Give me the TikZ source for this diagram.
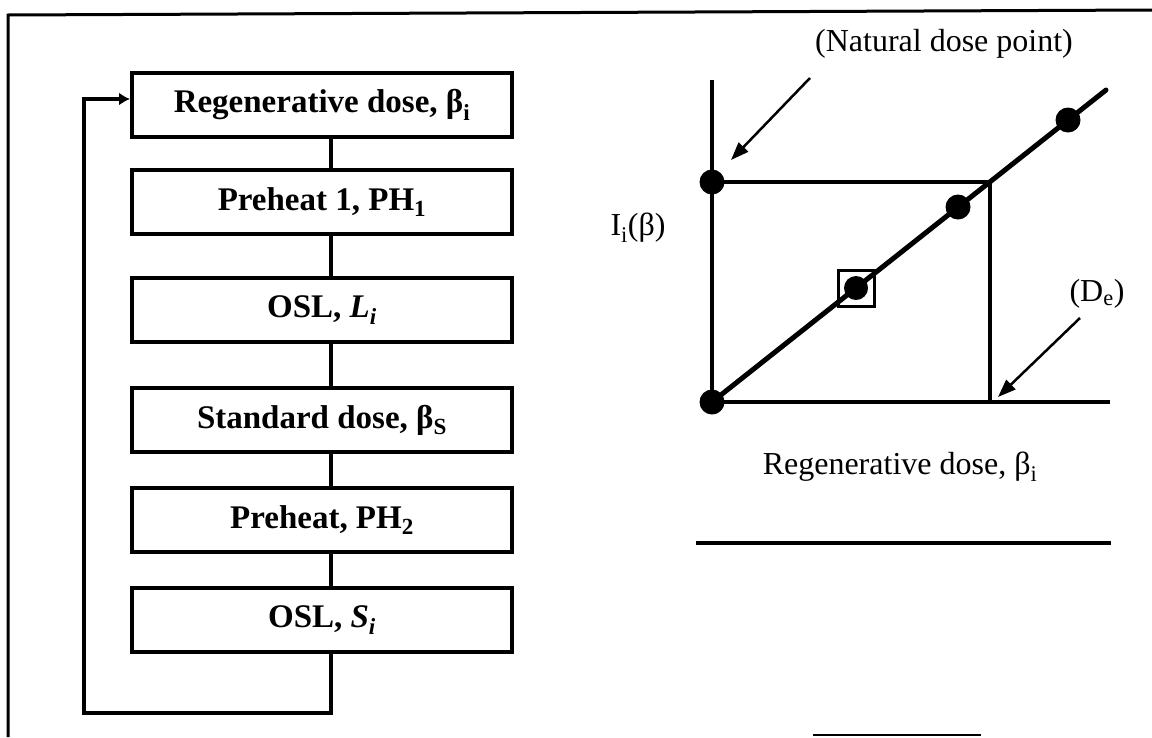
\documentclass[tikz,border=0pt]{standalone}
\usepackage{fontspec}
\setmainfont{Liberation Serif}
\usetikzlibrary{arrows.meta}

\tikzset{
  stage/.style={draw, line width=4pt, minimum width=380pt, minimum height=64pt,
    inner sep=0pt, font=\fontsize{33}{38}\selectfont\bfseries},
  link/.style={line width=4pt},
  axis/.style={line width=4.5pt},
  dot/.style={circle, fill, inner sep=0pt, minimum size=25pt},
  lbl/.style={font=\fontsize{32}{36}\selectfont, inner sep=0pt},
  pointer/.style={line width=2.5pt, -{Triangle[length=18pt,width=13pt]}},
}

\begin{document}
\begin{tikzpicture}[x=1pt, y=-1pt]
  \useasboundingbox (0,0) rectangle (1152,737);
  % scan frame
  \draw[line width=3pt] (8,737) -- (8,15) -- (1152,10);
  % SAR cycle
  \node[stage] (regen) at (322,105) {Regenerative dose, β\textsubscript{i}};
  \node[stage] (ph1) at (322,202) {Preheat 1, PH\textsubscript{1}};
  \node[stage] (osll) at (322,310) {OSL, \textit{L\textsubscript{i}}};
  \node[stage] (std) at (322,420) {Standard dose, β\textsubscript{S}};
  \node[stage] (ph2) at (322,520) {Preheat, PH\textsubscript{2}};
  \node[stage] (osls) at (322,620) {OSL, \textit{S\textsubscript{i}}};
  \coordinate (spine) at (331,0);
  \draw[link] (regen.south -| spine) -- (ph1.north -| spine);
  \draw[link] (ph1.south -| spine) -- (osll.north -| spine);
  \draw[link] (osll.south -| spine) -- (std.north -| spine);
  \draw[link] (std.south -| spine) -- (ph2.north -| spine);
  \draw[link] (ph2.south -| spine) -- (osls.north -| spine);
  % loop back
  \coordinate (loopbase) at (84,713);
  \draw[link, -{Latex[length=11pt,width=13pt]}] (osls.south -| spine) |- (loopbase)
    |- ([yshift=6pt]regen.west);
  % growth curve
  \coordinate (origin) at (712,402);
  \coordinate (ytop) at (712,80);
  \coordinate (xend) at (1110,402);
  \coordinate (knee) at (990,182);
  \coordinate (de) at (990,402);
  \coordinate (lineend) at (1106,90);
  \draw[axis] (ytop) -- (origin) -- (xend);
  \draw[line width=3.5pt] (712,182) -- (knee) -- (de);
  \draw[line width=5pt, line cap=round] (origin) -- (lineend);
  \node[draw, line width=3pt, minimum size=36pt, inner sep=0pt] (recycle) at (856,288) {};
  \node[dot, minimum size=24pt] (p1) at (856,288) {};
  \node[dot] (p0) at (origin) {};
  \node[dot] (nat) at (712,182) {};
  \node[dot] (p2) at (958,207) {};
  \node[dot] (p3) at (1068,120) {};
  % labels
  \node[lbl] (natlbl) at (944,44) {(Natural dose point)};
  \node[lbl] (ylbl) at (638,228) {I\textsubscript{i}(β)};
  \node[lbl] (delbl) at (1097,294) {(D\textsubscript{e})};
  \node[lbl] (xlbl) at (900,467) {Regenerative dose, β\textsubscript{i}};
  \coordinate (natfrom) at (810,78);
  \coordinate (natto) at (731,160);
  \coordinate (defrom) at (1080,318);
  \coordinate (deto) at (998,397);
  \draw[pointer] (natfrom) -- (natto);
  \draw[pointer] (defrom) -- (deto);
  % rules below
  \draw[line width=3.5pt] (696,543) -- (1111,543);
  \draw[line width=2pt] (813,735) -- (981,735);
\end{tikzpicture}
\end{document}
